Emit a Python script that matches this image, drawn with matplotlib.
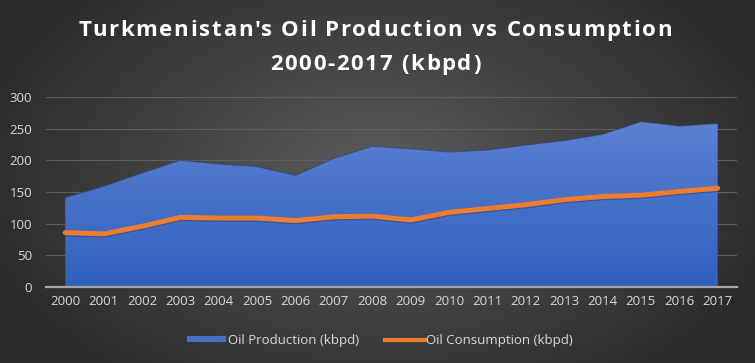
import numpy as np
import matplotlib
matplotlib.use('Agg')
import matplotlib.pyplot as plt
from matplotlib.colors import LinearSegmentedColormap
from matplotlib.patches import Patch
from matplotlib.lines import Line2D

# Turkmenistan oil data (kbpd)
years = [str(y) for y in range(2000, 2018)]
production = [141, 159, 180, 200, 194, 190, 176, 203, 222, 218, 213, 216, 224, 231, 241, 261, 254, 258]
consumption = [86, 84, 96, 110, 109, 109, 105, 111, 112, 106, 118, 124, 130, 138, 143, 145, 151, 156]
y_ticks = [0, 50, 100, 150, 200, 250, 300]
title_lines = ["Turkmenistan's Oil Production vs Consumption", "2000-2017 (kbpd)"]

plt.rcParams['font.family'] = ['Open Sans', 'DejaVu Sans']

fig = plt.figure(figsize=(7.55, 3.63), dpi=100)
renderer = fig.canvas.get_renderer()


def text_width(s, **kw):
    t = fig.text(0, 0, s, **kw)
    w = t.get_window_extent(renderer).width
    t.remove()
    return w


def spaced_text(s, xc, y, spacing, **kw):
    # excel-style letter spacing, drawn char by char (pixels)
    bar = text_width('x', **kw)
    lefts = [text_width(s[:i] + 'x', **kw) - bar if i else 0 for i in range(len(s))]
    total = text_width(s, **kw) + spacing * (len(s) - 1)
    x0 = xc * fig.bbox.width - total / 2
    for i, ch in enumerate(s):
        if ch == ' ':
            continue
        fig.text((x0 + lefts[i] + i * spacing) / fig.bbox.width, y, ch,
                 ha='left', va='baseline', **kw)


# radial dark background
bg = fig.add_axes([0, 0, 1, 1], zorder=-10)
yy, xx = np.mgrid[0:363, 0:755]
r = np.sqrt(((xx - 377) / 420.0) ** 2 + ((yy - 175) / 260.0) ** 2)
r = np.clip(r, 0, 1)
bg_cmap = LinearSegmentedColormap.from_list('bg', ['#5c5c5c', '#2a2a2a'])
bg.imshow(r, cmap=bg_cmap, aspect='auto', extent=[0, 1, 0, 1], origin='upper')
bg.axis('off')

ax = fig.add_axes([0.061, 0.209, 0.915, 0.524])
ax.set_facecolor('none')
x = np.arange(len(years))

# area with vertical gradient
poly = ax.fill_between(x, production, 0, color='none', zorder=2)
grad = np.linspace(0, 1, 256).reshape(-1, 1)
area_cmap = LinearSegmentedColormap.from_list('area', ['#2f60bd', '#5b81d3'])
img = ax.imshow(grad, cmap=area_cmap, aspect='auto', origin='lower',
                extent=[x[0], x[-1], 0, max(production)], zorder=2)
img.set_clip_path(poly.get_paths()[0], transform=ax.transData)
ax.plot(x, production, color='#2a3f6e', lw=0.8, alpha=0.5, zorder=3)

# consumption line with a soft shadow
ax.plot(x, np.array(consumption) - 1.2, color='#1f2f55', lw=4.5, alpha=0.35,
        solid_capstyle='round', zorder=4)
ax.plot(x, consumption, color='#ed7d31', lw=3.6, solid_capstyle='round', zorder=5)

ax.set_xlim(-0.5, len(years) - 0.5)
ax.set_ylim(0, 300)
ax.set_yticks(y_ticks)
ax.set_xticks(x)
ax.set_xticklabels(years)
ax.grid(axis='y', color='#5e5e5e', lw=0.8, zorder=1)
ax.set_axisbelow(True)
for s in ['top', 'right', 'left']:
    ax.spines[s].set_visible(False)
ax.spines['bottom'].set_color('#a6a6a6')
ax.spines['bottom'].set_linewidth(1.6)
ax.spines['bottom'].set_zorder(6)
ax.tick_params(axis='both', length=0, colors='#d9d9d9', labelsize=9.5)
ax.tick_params(axis='x', pad=6)
ax.tick_params(axis='y', pad=10)

title_kw = dict(color='white', fontsize=16, fontweight='bold')
spaced_text(title_lines[0], 0.497, 1 - 36 / 363, 1.7, **title_kw)
spaced_text(title_lines[1], 0.497, 1 - 70 / 363, 1.7, **title_kw)

handles = [Patch(facecolor='#4472c4', edgecolor='none'),
           Line2D([0], [0], color='#ed7d31', lw=3)]
fig.legend(handles, ['Oil Production (kbpd)', 'Oil Consumption (kbpd)'],
           loc='center', bbox_to_anchor=(0.503, 0.063), ncol=2, frameon=False,
           fontsize=9.5, labelcolor='#d9d9d9', handlelength=3.0, handleheight=0.35,
           handletextpad=0.1, columnspacing=2.0)

fig.savefig('out.png', dpi=100)
